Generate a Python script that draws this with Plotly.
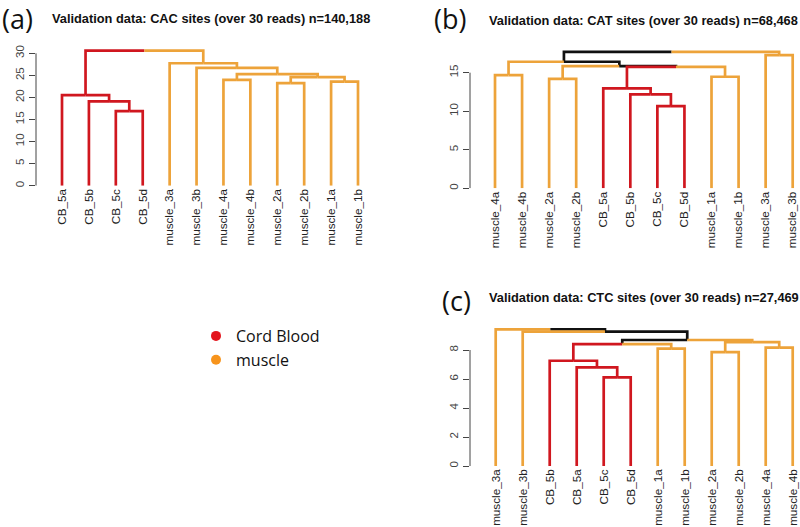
import plotly.graph_objects as go

# ---------------- data ----------------
# leaf order (left to right) and merge steps (children: leaf label or 1-based merge index)
labels_a = ["CB_5a", "CB_5b", "CB_5c", "CB_5d", "muscle_3a", "muscle_3b",
            "muscle_4a", "muscle_4b", "muscle_2a", "muscle_2b", "muscle_1a", "muscle_1b"]
merges_a = [("CB_5c", "CB_5d"), ("CB_5b", 1), ("CB_5a", 2),
            ("muscle_2a", "muscle_2b"), ("muscle_1a", "muscle_1b"), ("muscle_4a", "muscle_4b"),
            (4, 5), (6, 7), ("muscle_3b", 8), ("muscle_3a", 9), (3, 10)]
heights_a = [16.9, 19.1, 20.5, 23.25, 23.6, 24.0, 24.6, 25.3, 26.7, 27.75, 30.6]

labels_b = ["muscle_4a", "muscle_4b", "muscle_2a", "muscle_2b", "CB_5a", "CB_5b",
            "CB_5c", "CB_5d", "muscle_1a", "muscle_1b", "muscle_3a", "muscle_3b"]
merges_b = [("CB_5c", "CB_5d"), ("CB_5b", 1), ("CB_5a", 2),
            ("muscle_2a", "muscle_2b"), ("muscle_1a", "muscle_1b"), ("muscle_4a", "muscle_4b"),
            (3, 5), (4, 7), (6, 8), ("muscle_3a", "muscle_3b"), (9, 10)]
heights_b = [10.67, 12.19, 12.97, 14.2, 14.47, 14.69, 15.75, 15.85, 16.42, 17.29, 17.7]

labels_c = ["muscle_3a", "muscle_3b", "CB_5b", "CB_5a", "CB_5c", "CB_5d",
            "muscle_1a", "muscle_1b", "muscle_2a", "muscle_2b", "muscle_4a", "muscle_4b"]
merges_c = [("CB_5c", "CB_5d"), ("CB_5a", 1), ("CB_5b", 2),
            ("muscle_2a", "muscle_2b"), ("muscle_1a", "muscle_1b"), ("muscle_4a", "muscle_4b"),
            (3, 5), (4, 6), (7, 8), ("muscle_3b", 9), ("muscle_3a", 10)]
heights_c = [6.11, 6.80, 7.26, 7.86, 8.09, 8.16, 8.41, 8.55, 8.69, 9.27, 9.43]

titles = ["Validation data: CAC sites (over 30 reads) n=140,188",
          "Validation data: CAT sites (over 30 reads) n=68,468",
          "Validation data: CTC sites (over 30 reads) n=27,469"]
panel_tags = ["(a)", "(b)", "(c)"]
group_names = ["Cord Blood", "muscle"]
y_ticks_a = [0, 5, 10, 15, 20, 25, 30]
y_ticks_b = [0, 5, 10, 15]
y_ticks_c = [0, 2, 4, 6, 8]

# ---------------- styling ----------------
LINE_COL = {"Cord Blood": "#D0171F", "muscle": "#EDA33A", None: "#111111"}
LEGEND_COL = {"Cord Blood": "#E3141C", "muscle": "#F7941D"}
LW = 2.7


def group_of(label):
    return "Cord Blood" if label.startswith("CB") else "muscle"


fig = go.Figure()


def add_dendrogram(labels, merges, heights, xa, ya):
    pos = {lab: i + 1 for i, lab in enumerate(labels)}

    def info(ref):
        if isinstance(ref, str):
            return pos[ref], 0.0, {group_of(ref)}
        x, h, grp = node_info[ref - 1]
        return x, h, grp

    node_info = []
    for (l, r), h in zip(merges, heights):
        xl, _, gl = info(l)
        xr, _, gr = info(r)
        node_info.append(((xl + xr) / 2, h, gl | gr))

    def draw(idx):
        x, h, _ = node_info[idx - 1]
        for child in merges[idx - 1]:
            cx, ch, cg = info(child)
            col = LINE_COL[next(iter(cg))] if len(cg) == 1 else LINE_COL[None]
            fig.add_trace(go.Scatter(
                x=[cx, cx, x], y=[ch, h, h], mode="lines",
                line=dict(color=col, width=LW), xaxis=xa, yaxis=ya,
                showlegend=False, hoverinfo="skip"))
            if not isinstance(child, str):
                draw(child)

    draw(len(merges))


add_dendrogram(labels_a, merges_a, heights_a, "x", "y")
add_dendrogram(labels_b, merges_b, heights_b, "x2", "y2")
add_dendrogram(labels_c, merges_c, heights_c, "x3", "y3")

for g in group_names:
    fig.add_trace(go.Scatter(x=[None], y=[None], mode="markers", name=g,
                             marker=dict(color=LEGEND_COL[g], size=10),
                             xaxis="x", yaxis="y", hoverinfo="skip"))

H = 527.0
W = 800.0


def xaxis(dom, rng, labels, anchor):
    return dict(domain=dom, range=rng, anchor=anchor, tickmode="array",
                tickvals=list(range(1, len(labels) + 1)), ticktext=labels,
                tickangle=-90, ticks="",
                showgrid=False, zeroline=False, showline=False,
                tickfont=dict(family="Liberation Sans, Arial", size=11.7, color="#222"),
                automargin=False, fixedrange=True)


def yaxis(dom, rng, ticks, anchor):
    return dict(domain=dom, range=rng, anchor=anchor, tickmode="array",
                tickvals=ticks, ticktext=[str(t) for t in ticks], tickangle=-90,
                ticks="outside", ticklen=6, tickwidth=1, tickcolor="#444",
                showgrid=False, zeroline=False, showline=False,
                tickfont=dict(family="Liberation Sans, Arial", size=11.5, color="#444"),
                automargin=False, fixedrange=True)


layout = dict(
    width=800, height=527, margin=dict(l=0, r=0, t=0, b=0),
    paper_bgcolor="white", plot_bgcolor="white",
    xaxis=xaxis([36 / W, 384 / W], [0.034, 12.966], labels_a, "y"),
    yaxis=yaxis([(H - 185.7) / H, (H - 45) / H], [0, 31.88], y_ticks_a, "x"),
    xaxis2=xaxis([470 / W, 1.0], [0.076, 12.27], labels_b, "y2"),
    yaxis2=yaxis([(H - 188.3) / H, (H - 40) / H], [0, 19.24], y_ticks_b, "x2"),
    xaxis3=xaxis([470 / W, 1.0], [0.048, 12.27], labels_c, "y3"),
    yaxis3=yaxis([(H - 466) / H, (H - 320) / H], [0, 10.07], y_ticks_c, "x3"),
    showlegend=True,
    legend=dict(x=196 / W, y=1 - 319 / H, xanchor="left", yanchor="top",
                font=dict(family="Open Sans", size=16, color="#111"),
                bgcolor="rgba(0,0,0,0)", itemsizing="trace"),
)
fig.update_layout(**layout)

# y axis lines spanning only the tick range (as in base R)
for ya, xd, ticks in [("y", "x domain", y_ticks_a), ("y2", "x2 domain", y_ticks_b),
                      ("y3", "x3 domain", y_ticks_c)]:
    fig.add_shape(type="line", xref=xd, yref=ya, x0=0, x1=0, y0=ticks[0], y1=ticks[-1],
                  line=dict(color="#444", width=1))

# titles and panel tags
title_pos = [(50, 18), (487, 20.7), (487, 297.3)]
tag_pos = [(0, 19), (432, 19), (440, 300)]
for t, (tx, ty) in zip(titles, title_pos):
    fig.add_annotation(text="<b>" + t + "</b>", xref="paper", yref="paper",
                       x=tx / W, y=1 - ty / H, xanchor="left", yanchor="middle",
                       showarrow=False, font=dict(family="Liberation Sans, Arial", size=12.8, color="#111"))
for t, (tx, ty) in zip(panel_tags, tag_pos):
    fig.add_annotation(text=t, xref="paper", yref="paper",
                       x=tx / W, y=1 - ty / H, xanchor="left", yanchor="middle",
                       showarrow=False, font=dict(family="Open Sans", size=27, color="#111"))

fig.write_html("out.html", config={"displayModeBar": False},
               post_script="document.body.style.margin='0px';")
